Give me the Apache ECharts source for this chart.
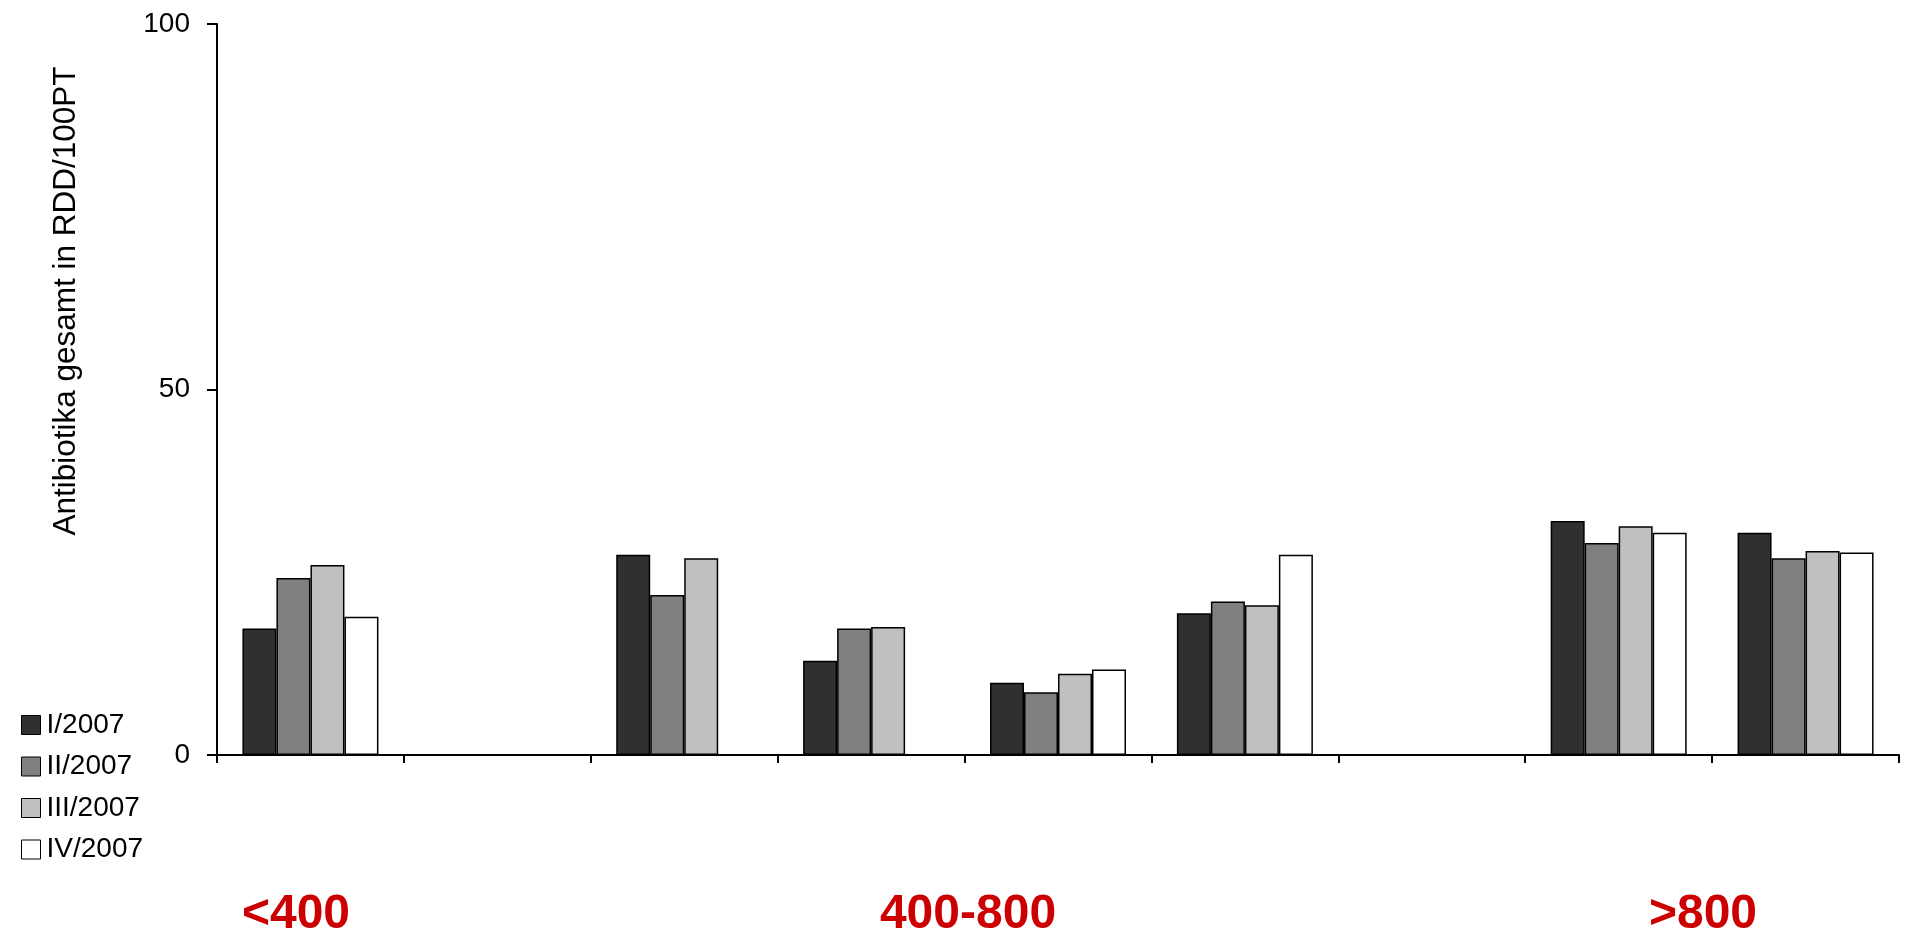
<!DOCTYPE html>
<html>
<head>
<meta charset="utf-8">
<script src="https://cdn.jsdelivr.net/npm/echarts@6/dist/echarts.min.js"></script>
<style>
html,body{margin:0;padding:0;background:#fff;}
#chart{width:1910px;height:936px;}
</style>
</head>
<body>
<div id="chart"></div>
<script>
var categories = ['1', '2', '3', '4', '5', '6', '7', '8', '9'];
var seriesNames = ['I/2007', 'II/2007', 'III/2007', 'IV/2007'];
var q1 = [17.3, null, 27.4, 12.9, 9.9, 19.4, null, 32.0, 30.4];
var q2 = [24.2, null, 21.9, 17.3, 8.6, 21.0, null, 29.0, 26.9];
var q3 = [26.0, null, 26.9, 17.5, 11.1, 20.5, null, 31.3, 27.9];
var q4 = [18.9, null, null, null, 11.7, 27.4, null, 30.4, 27.7];
var yTicks = [0, 50, 100];
var groupLabels = ['<400', '400-800', '>800'];

var colors = ['#303030', '#808080', '#c0c0c0', '#ffffff'];
var values = [q1, q2, q3, q4];
var FONT = 'Liberation Sans, Arial, sans-serif';

var chart = echarts.init(document.getElementById('chart'));
var series = seriesNames.map(function (n, i) {
  return {
    name: n,
    type: 'bar',
    data: values[i],
    barWidth: 34,
    barGap: '0%',
    itemStyle: { color: colors[i], borderColor: '#000', borderWidth: 1.5 },
    emphasis: { disabled: true }
  };
});

var groupPos = [296, 968, 1703];

chart.setOption({
  animation: false,
  backgroundColor: '#fff',
  grid: { left: 217, right: 11, top: 24, bottom: 181, containLabel: false },
  legend: {
    orient: 'vertical',
    left: 16,
    top: 706,
    itemWidth: 19,
    itemHeight: 19,
    itemGap: 13.5,
    icon: 'rect',
    selectedMode: false,
    itemStyle: { borderColor: '#000', borderWidth: 1 },
    textStyle: { fontSize: 28, color: '#000', fontFamily: FONT, padding: [0, 0, 0, 1] },
    data: seriesNames
  },
  xAxis: {
    type: 'category',
    data: categories,
    boundaryGap: true,
    axisLine: { show: true, lineStyle: { color: '#000', width: 2 } },
    axisTick: { show: true, length: 8, alignWithLabel: false, lineStyle: { color: '#000', width: 2 } },
    axisLabel: { show: false },
    splitLine: { show: false }
  },
  yAxis: {
    type: 'value',
    min: yTicks[0],
    max: yTicks[yTicks.length - 1],
    interval: yTicks[1] - yTicks[0],
    axisLine: { show: true, lineStyle: { color: '#000', width: 2 } },
    axisTick: { show: true, length: 10, lineStyle: { color: '#000', width: 2 } },
    axisLabel: { fontSize: 28, color: '#000', fontFamily: FONT, margin: 27 },
    splitLine: { show: false }
  },
  graphic: [
    {
      type: 'text',
      x: 66,
      y: 301,
      rotation: Math.PI / 2,
      style: {
        text: 'Antibiotika gesamt in RDD/100PT',
        font: '31.5px ' + FONT,
        fill: '#000',
        align: 'center',
        verticalAlign: 'middle'
      }
    }
  ].concat(groupLabels.map(function (t, i) {
    return {
      type: 'text',
      x: groupPos[i],
      y: 915,
      style: {
        text: t,
        font: 'bold 48px ' + FONT,
        fill: '#cc0000',
        align: 'center',
        verticalAlign: 'middle'
      }
    };
  })),
  series: series
});
</script>
</body>
</html>
